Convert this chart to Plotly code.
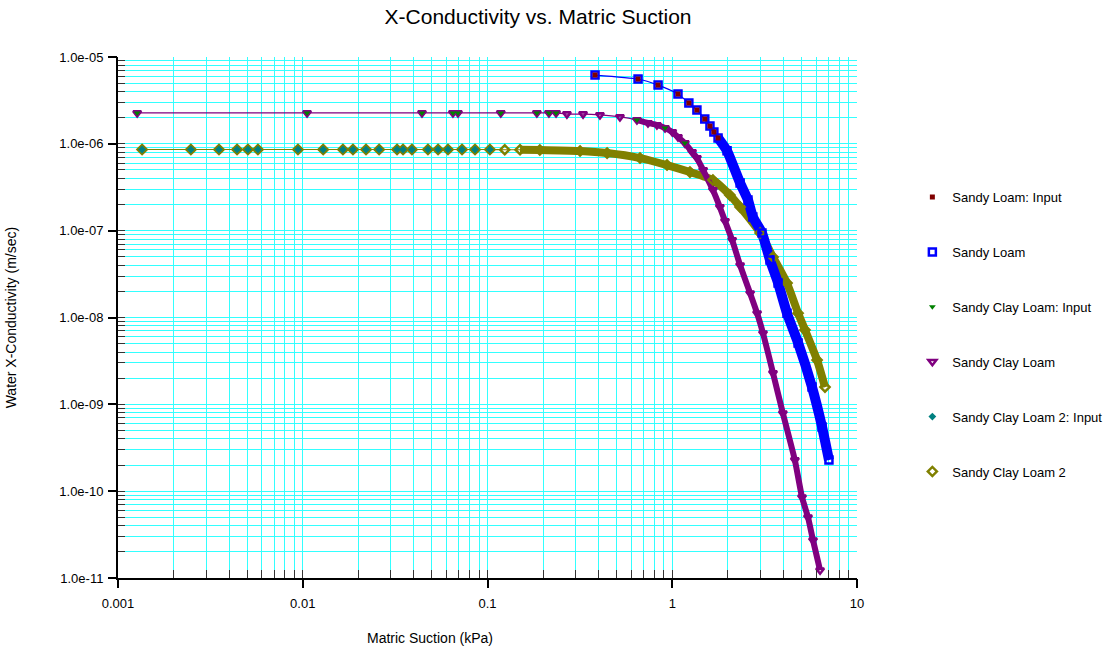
import plotly.graph_objects as go

# ---------------- data ----------------
# Sandy Loam (fitted)
sl_x = [0.382, 0.653, 0.838, 1.074, 1.23, 1.36, 1.50, 1.60, 1.68, 1.77, 1.98, 2.33, 2.57, 2.73,
        3.06, 3.38, 3.74, 4.18, 4.80, 5.71, 6.47, 7.05]
sl_y = [6.2e-6, 5.58e-6, 4.75e-6, 3.75e-6, 2.95e-6, 2.45e-6, 1.93e-6, 1.60e-6, 1.37e-6, 1.17e-6,
        8.3e-7, 3.53e-7, 2.25e-7, 1.44e-7, 9.4e-8, 4.6e-8, 2.5e-8, 1.12e-8, 5.1e-9, 1.58e-9,
        5.5e-10, 2.28e-10]
# Sandy Loam: Input
sl_in_x = [0.382, 0.653, 0.838, 1.074, 1.23, 1.36, 1.50, 1.60, 1.68, 1.77]
sl_in_y = [6.2e-6, 5.58e-6, 4.75e-6, 3.75e-6, 2.95e-6, 2.45e-6, 1.93e-6, 1.60e-6, 1.37e-6, 1.17e-6]

# Sandy Clay Loam (fitted)
scl_x = [0.00127, 0.01055, 0.0442, 0.065, 0.0692, 0.118, 0.185, 0.215, 0.235, 0.269, 0.329,
         0.406, 0.521, 0.644, 0.739, 0.826, 0.914, 1.0, 1.074, 1.17, 1.28, 1.36, 1.47, 1.66,
         1.81, 1.93, 2.11, 2.33, 2.64, 2.88, 3.10, 3.51, 3.97, 4.61, 5.04, 5.43, 5.78, 6.31]
scl_y = [2.27e-6, 2.27e-6, 2.27e-6, 2.27e-6, 2.27e-6, 2.27e-6, 2.27e-6, 2.27e-6, 2.27e-6,
         2.2e-6, 2.2e-6, 2.15e-6, 2.04e-6, 1.88e-6, 1.74e-6, 1.65e-6, 1.52e-6, 1.37e-6,
         1.20e-6, 1.02e-6, 8.05e-7, 6.86e-7, 4.99e-7, 2.94e-7, 1.87e-7, 1.29e-7, 7.8e-8,
         4.0e-8, 1.9e-8, 1.12e-8, 6.6e-9, 2.29e-9, 7.9e-10, 2.28e-10, 8.5e-11, 5.0e-11,
         2.72e-11, 1.23e-11]
# Sandy Clay Loam: Input
scl_in_x = [0.00127, 0.01055, 0.0442, 0.065, 0.0692, 0.118, 0.185, 0.215, 0.235, 0.644, 0.914, 1.17]
scl_in_y = [2.27e-6, 2.27e-6, 2.27e-6, 2.27e-6, 2.27e-6, 2.27e-6, 2.27e-6, 2.27e-6, 2.27e-6,
            1.88e-6, 1.52e-6, 1.02e-6]

# Sandy Clay Loam 2 (fitted)
scl2_x = [0.00135, 0.00248, 0.00352, 0.00441, 0.00505, 0.00572, 0.00942, 0.0129, 0.0165,
          0.0187, 0.0220, 0.0259, 0.0324, 0.0349, 0.0390, 0.0476, 0.0540, 0.0611, 0.0728,
          0.0856, 0.103, 0.124, 0.150, 0.192, 0.317, 0.444, 0.669, 0.937, 1.247, 1.66, 2.05,
          2.33, 2.99, 3.51, 4.18, 4.80, 5.23, 6.08, 6.71]
scl2_y = [8.6e-7, 8.6e-7, 8.6e-7, 8.6e-7, 8.6e-7, 8.6e-7, 8.6e-7, 8.6e-7, 8.6e-7, 8.6e-7,
          8.6e-7, 8.6e-7, 8.6e-7, 8.6e-7, 8.6e-7, 8.6e-7, 8.6e-7, 8.6e-7, 8.6e-7, 8.6e-7,
          8.6e-7, 8.55e-7, 8.55e-7, 8.5e-7, 8.26e-7, 7.83e-7, 6.86e-7, 5.70e-7, 4.73e-7,
          3.83e-7, 2.57e-7, 1.87e-7, 9.4e-8, 4.97e-8, 2.49e-8, 1.12e-8, 7.2e-9, 3.23e-9, 1.58e-9]
# Sandy Clay Loam 2: Input
scl2_in_x = [0.00135, 0.00248, 0.00352, 0.00441, 0.00505, 0.00572, 0.00942, 0.0129, 0.0165,
             0.0187, 0.0220, 0.0259, 0.0324, 0.0349, 0.0390, 0.0476, 0.0540, 0.0611, 0.0728,
             0.0856, 0.103]
scl2_in_y = [8.6e-7] * len(scl2_in_x)

x_major_exp = [-3, -2, -1, 0, 1]
x_ticktext = ["0.001", "0.01", "0.1", "1", "10"]
y_major_exp = [-11, -10, -9, -8, -7, -6, -5]
y_ticktext = ["1.0e-11", "1.0e-10", "1.0e-09", "1.0e-08", "1.0e-07", "1.0e-06", "1.0e-05"]
minor_digits = [2, 3, 4, 5, 6, 7, 8, 9]

# tick positions (all: majors labelled, minors blank)
x_major = [10.0 ** e for e in x_major_exp]
y_major = [10.0 ** e for e in y_major_exp]
x_all = x_major + [d * 10.0 ** e for e in x_major_exp[:-1] for d in minor_digits]
x_all_text = x_ticktext + [""] * (len(x_all) - len(x_major))
y_all = y_major + [d * 10.0 ** e for e in y_major_exp[:-1] for d in minor_digits]
y_all_text = y_ticktext + [""] * (len(y_all) - len(y_major))

# band (dense-marker) regions start
sl_band_from = 1.7
scl_band_from = 0.6
scl2_band_from = 0.15

BLUE, PURPLE, OLIVE = "#0000FF", "#800080", "#808000"
DRED, GREEN, TEAL = "#800000", "#008000", "#008080"
GRID = "#33FFFF"

fig = go.Figure()


def band(xs, ys, start):
    pts = [(a, b) for a, b in zip(xs, ys) if a >= start]
    return [p[0] for p in pts], [p[1] for p in pts]


# thin connecting lines
for xs, ys, c in [(sl_x, sl_y, BLUE), (scl_x, scl_y, PURPLE), (scl2_x, scl2_y, OLIVE)]:
    fig.add_trace(go.Scatter(x=xs, y=ys, mode="lines",
                             line=dict(color=c, width=1.2, shape="spline", smoothing=0.5),
                             showlegend=False, hoverinfo="skip"))

# thick bands where markers are dense
for xs, ys, c, st, w in [(scl2_x, scl2_y, OLIVE, scl2_band_from, 8),
                         (scl_x, scl_y, PURPLE, scl_band_from, 6),
                         (sl_x, sl_y, BLUE, sl_band_from, 10)]:
    bx, by = band(xs, ys, st)
    fig.add_trace(go.Scatter(x=bx, y=by, mode="lines",
                             line=dict(color=c, width=w, shape="spline", smoothing=0.5),
                             showlegend=False, hoverinfo="skip"))

# fitted markers
fig.add_trace(go.Scatter(x=scl2_x, y=scl2_y, mode="markers", name="Sandy Clay Loam 2",
                         legendrank=6, legendgroup="g6",
                         marker=dict(symbol="diamond-open", size=7, color=OLIVE,
                                     line=dict(width=2.5, color=OLIVE))))
fig.add_trace(go.Scatter(x=scl_x, y=scl_y, mode="markers", name="Sandy Clay Loam",
                         legendrank=4, legendgroup="g4",
                         marker=dict(symbol="triangle-down-open", size=7, color=PURPLE,
                                     line=dict(width=2.5, color=PURPLE))))
fig.add_trace(go.Scatter(x=sl_x, y=sl_y, mode="markers", name="Sandy Loam",
                         legendrank=2, legendgroup="g2",
                         marker=dict(symbol="square-open", size=7, color=BLUE,
                                     line=dict(width=2.5, color=BLUE))))

# input markers
fig.add_trace(go.Scatter(x=scl2_in_x, y=scl2_in_y, mode="markers", name="Sandy Clay Loam 2: Input",
                         legendrank=5, legendgroup="g5",
                         marker=dict(symbol="diamond", size=6, color=TEAL)))
fig.add_trace(go.Scatter(x=scl_in_x, y=scl_in_y, mode="markers", name="Sandy Clay Loam: Input",
                         legendrank=3, legendgroup="g3",
                         marker=dict(symbol="triangle-down", size=6, color=GREEN)))
fig.add_trace(go.Scatter(x=sl_in_x, y=sl_in_y, mode="markers", name="Sandy Loam: Input",
                         legendrank=1, legendgroup="g1",
                         marker=dict(symbol="square", size=5, color=DRED)))

# invisible carrier for the overlay axes that draw the long major ticks
fig.add_trace(go.Scatter(x=scl_x[:1], y=scl_y[:1], xaxis="x2", yaxis="y2", mode="markers",
                         marker=dict(opacity=0), showlegend=False, hoverinfo="skip"))

FONT = "Liberation Sans, Arial, sans-serif"

fig.update_layout(
    width=1114, height=647,
    margin=dict(l=118, r=257, t=57, b=69),
    paper_bgcolor="white", plot_bgcolor="white",
    font=dict(family=FONT, size=13, color="black"),
    title=dict(text="X-Conductivity vs. Matric Suction", x=0.483, xref="container",
               xanchor="center", y=0.985, yref="container", yanchor="top",
               font=dict(family=FONT, size=21, color="black")),
    showlegend=True,
    legend=dict(x=0.819, xref="container", xanchor="left", y=0.76, yanchor="top",
                bgcolor="rgba(0,0,0,0)", font=dict(family=FONT, size=13, color="black"),
                tracegroupgap=35, itemsizing="trace", traceorder="grouped"),
    xaxis=dict(type="log", range=[-3, 1], tickmode="array", tickvals=x_all, ticktext=x_all_text,
               showline=True, linecolor="black", linewidth=2,
               ticks="inside", ticklen=8, tickwidth=1, tickcolor="#333333",
               ticklabelstandoff=12,
               showgrid=True, gridcolor=GRID, gridwidth=1, zeroline=False,
               tickfont=dict(size=13, family=FONT)),
    yaxis=dict(type="log", range=[-11, -5], tickmode="array", tickvals=y_all, ticktext=y_all_text,
               showline=True, linecolor="black", linewidth=2,
               ticks="inside", ticklen=7, tickwidth=1, tickcolor="#333333",
               ticklabelstandoff=10,
               showgrid=True, gridcolor=GRID, gridwidth=1, zeroline=False,
               tickfont=dict(size=13, family=FONT)),
    xaxis2=dict(type="log", range=[-3, 1], overlaying="x", anchor="y", side="bottom",
                tickmode="array", tickvals=x_major, showticklabels=False,
                ticks="outside", ticklen=9, tickwidth=2, tickcolor="black",
                showgrid=False, showline=False, zeroline=False),
    yaxis2=dict(type="log", range=[-11, -5], overlaying="y", anchor="x", side="left",
                tickmode="array", tickvals=y_major, showticklabels=False,
                ticks="outside", ticklen=9, tickwidth=2, tickcolor="black",
                showgrid=False, showline=False, zeroline=False),
    annotations=[
        dict(text="Matric Suction (kPa)", xref="paper", yref="paper", x=0.422, y=-0.115,
             xanchor="center", yanchor="middle", showarrow=False,
             font=dict(family=FONT, size=14, color="black")),
        dict(text="Water X-Conductivity (m/sec)", xref="paper", yref="paper", x=-0.145, y=0.5,
             xanchor="center", yanchor="middle", showarrow=False, textangle=-90,
             font=dict(family=FONT, size=14, color="black")),
    ],
)

fig.write_html("out.html")
